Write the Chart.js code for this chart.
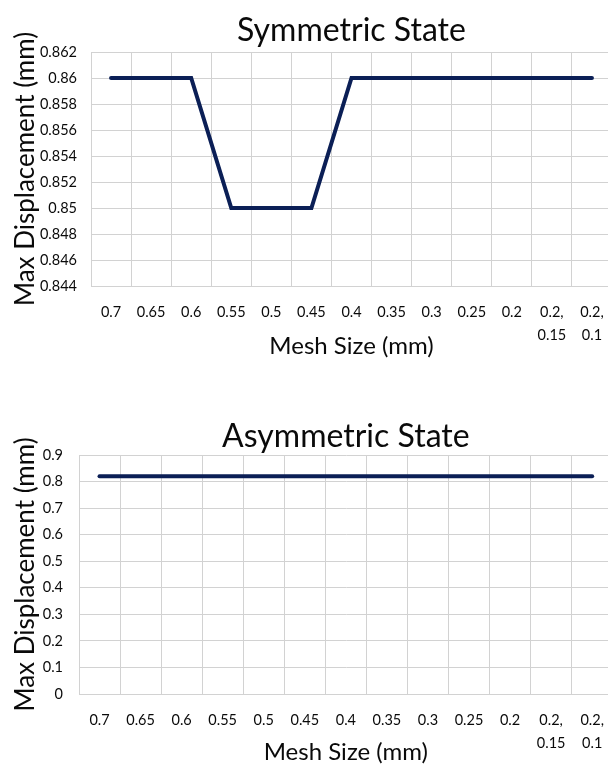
<!DOCTYPE html>
<html>
<head>
<meta charset="utf-8">
<script src="https://cdn.jsdelivr.net/npm/chart.js@4/dist/chart.umd.min.js"></script>
<style>
  html, body { margin: 0; padding: 0; background: #fff; overflow: hidden; width: 608px; height: 768px; }
  canvas { position: absolute; left: 0; }
  #symChart { top: 0; }
  #asymChart { top: 395px; }
</style>
</head>
<body>
<canvas id="symChart" width="620" height="375"></canvas>
<canvas id="asymChart" width="620" height="395"></canvas>
<script>
// Mesh sizes tested (mm); the last two runs used two mesh sizes
const meshSizes = ['0.7', '0.65', '0.6', '0.55', '0.5', '0.45', '0.4', '0.35', '0.3', '0.25', '0.2', ['0.2,', '0.15'], ['0.2,', '0.1']];

// Maximum displacement (mm) per mesh size
const symmetricDisp  = [0.86, 0.86, 0.86, 0.85, 0.85, 0.85, 0.86, 0.86, 0.86, 0.86, 0.86, 0.86, 0.86];
const asymmetricDisp = [0.82, 0.82, 0.82, 0.82, 0.82, 0.82, 0.82, 0.82, 0.82, 0.82, 0.82, 0.82, 0.82];

// Value-axis ticks
const symmetricTicks  = [0.844, 0.846, 0.848, 0.85, 0.852, 0.854, 0.856, 0.858, 0.86, 0.862];
const asymmetricTicks = [0, 0.1, 0.2, 0.3, 0.4, 0.5, 0.6, 0.7, 0.8, 0.9];

const FONT = 'Lato, "Open Sans", sans-serif';
const GRID = '#d2d2d2';
const LINE = '#0b1f56';
const TEXT = '#0a0a0a';

function buildChart(id, title, values, ticks, geo) {
  return new Chart(document.getElementById(id), {
    type: 'line',
    data: {
      labels: meshSizes,
      datasets: [{
        data: values,
        borderColor: LINE,
        borderWidth: 4,
        borderCapStyle: 'round',
        borderJoinStyle: 'miter',
        pointRadius: 0,
        tension: 0,
        fill: false
      }]
    },
    options: {
      responsive: false,
      animation: false,
      layout: { padding: { left: 0, right: geo.right, top: 0, bottom: 0 } },
      plugins: {
        legend: { display: false },
        tooltip: { enabled: false },
        title: {
          display: true,
          text: title,
          fullSize: false,
          color: TEXT,
          font: { family: FONT, size: 32, weight: 'normal', lineHeight: 1 },
          padding: { top: geo.titleTop, bottom: geo.titleBottom }
        }
      },
      scales: {
        x: {
          type: 'category',
          offset: true,
          grid: { offset: true, color: GRID, lineWidth: 1, drawTicks: false },
          border: { color: GRID },
          ticks: {
            autoSkip: false,
            maxRotation: 0,
            color: TEXT,
            padding: 14.5,
            font: { family: FONT, size: 14.5, lineHeight: 1.6 }
          },
          title: {
            display: true,
            text: 'Mesh Size (mm)',
            color: TEXT,
            font: { family: FONT, size: 24, lineHeight: 1.2 },
            padding: { top: 0, bottom: geo.xTitleBottom }
          },
          afterFit: s => { s.height = geo.xHeight; }
        },
        y: {
          min: ticks[0],
          max: ticks[ticks.length - 1],
          afterBuildTicks: s => { s.ticks = ticks.map(v => ({ value: v })); },
          grid: { color: GRID, lineWidth: 1, drawTicks: false },
          border: { color: GRID },
          ticks: {
            color: TEXT,
            padding: geo.yPad,
            font: { family: FONT, size: 14.5 },
            callback: v => String(Number(Number(v).toFixed(3)))
          },
          title: {
            display: true,
            text: 'Max Displacement (mm)',
            color: TEXT,
            font: { family: FONT, size: 26, lineHeight: 1.2 },
            padding: { top: 10.4, bottom: 0 }
          },
          afterFit: s => { s.width = geo.yWidth; }
        }
      }
    }
  });
}

buildChart('symChart', 'Symmetric State', symmetricDisp, symmetricTicks,
  { right: 8, titleTop: 15, titleBottom: 5, xHeight: 89, xTitleBottom: 14.6, yWidth: 91, yPad: 14 });

buildChart('asymChart', 'Asymmetric State', asymmetricDisp, asymmetricTicks,
  { right: 7.3, titleTop: 26, titleBottom: 2, xHeight: 96, xTitleBottom: 23.6, yWidth: 79, yPad: 16 });
</script>
</body>
</html>
